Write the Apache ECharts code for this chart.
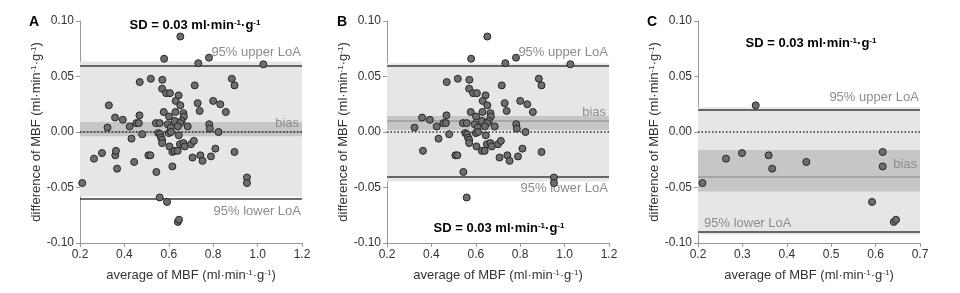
<!DOCTYPE html>
<html><head><meta charset="utf-8">
<script src="https://cdn.jsdelivr.net/npm/echarts@6/dist/echarts.min.js"></script>
<style>html,body{margin:0;padding:0;background:#fff}#c{width:960px;height:293px}</style>
</head><body><div id="c"></div>
<script>
// Panel A: all measurements
const aAvg = [0.652,0.579,0.733,0.781,1.026,0.469,0.519,0.571,0.884,0.896,
  0.717,0.570,0.588,0.605,0.644,0.631,0.800,0.730,0.832,0.652,
  0.330,0.739,0.857,0.577,0.630,0.666,0.358,0.393,0.468,0.601,
  0.668,0.454,0.465,0.542,0.559,0.424,0.324,0.627,0.658,0.651,
  0.595,0.641,0.609,0.685,0.782,0.785,0.824,0.480,0.553,0.561,
  0.565,0.570,0.600,0.610,0.645,0.432,0.570,0.603,0.616,0.627,
  0.640,0.650,0.666,0.672,0.700,0.713,0.707,0.742,0.752,0.790,
  0.810,0.896,0.952,0.952,0.616,0.210,0.263,0.299,0.359,0.362,
  0.367,0.444,0.508,0.517,0.544,0.559,0.592,0.641,0.646];
const aDiff = [0.086,0.066,0.062,0.067,0.061,0.045,0.048,0.047,0.048,0.042,
  0.042,0.039,0.035,0.035,0.033,0.028,0.028,0.026,0.025,0.024,
  0.024,0.019,0.018,0.018,0.018,0.017,0.013,0.011,0.015,0.014,
  0.014,0.008,0.008,0.008,0.008,0.005,0.004,0.010,0.010,0.008,
  0.007,0.005,0.004,0.005,0.007,0.003,0.000,-0.002,-0.001,-0.002,
  -0.005,-0.007,-0.001,0.000,-0.003,-0.006,-0.010,-0.013,-0.018,-0.017,
  -0.017,-0.011,-0.010,-0.013,-0.011,-0.008,-0.023,-0.021,-0.026,-0.022,
  -0.015,-0.018,-0.041,-0.046,-0.031,-0.046,-0.024,-0.019,-0.021,-0.017,
  -0.033,-0.027,-0.021,-0.021,-0.036,-0.059,-0.063,-0.081,-0.079];
// Panel B
const bAvg = [0.652,0.579,0.733,0.781,1.026,0.469,0.519,0.571,0.884,0.896,
  0.717,0.570,0.588,0.605,0.644,0.631,0.800,0.730,0.832,0.652,
  0.739,0.857,0.577,0.630,0.666,0.358,0.393,0.468,0.601,
  0.668,0.454,0.465,0.542,0.559,0.424,0.324,0.627,0.658,0.651,
  0.595,0.641,0.609,0.685,0.782,0.785,0.824,0.480,0.553,0.561,
  0.565,0.570,0.600,0.610,0.645,0.432,0.570,0.603,0.627,
  0.640,0.650,0.666,0.672,0.700,0.713,0.707,0.742,0.752,0.790,
  0.810,0.896,0.952,0.952,0.362,
  0.508,0.517,0.544,0.559];
const bDiff = [0.086,0.066,0.062,0.067,0.061,0.045,0.048,0.047,0.048,0.042,
  0.042,0.039,0.035,0.035,0.033,0.028,0.028,0.026,0.025,0.024,
  0.019,0.018,0.018,0.018,0.017,0.013,0.011,0.015,0.014,
  0.014,0.008,0.008,0.008,0.008,0.005,0.004,0.010,0.010,0.008,
  0.007,0.005,0.004,0.005,0.007,0.003,0.000,-0.002,-0.001,-0.002,
  -0.005,-0.007,-0.001,0.000,-0.003,-0.006,-0.010,-0.013,-0.017,
  -0.017,-0.011,-0.010,-0.013,-0.011,-0.008,-0.023,-0.021,-0.026,-0.022,
  -0.015,-0.018,-0.041,-0.046,-0.017,
  -0.021,-0.021,-0.036,-0.059];
// Panel C
const cAvg = [0.330,0.210,0.263,0.299,0.359,0.367,0.444,0.592,0.616,0.616,0.641,0.646];
const cDiff = [0.024,-0.046,-0.024,-0.019,-0.021,-0.033,-0.027,-0.063,-0.018,-0.031,-0.081,-0.079];

// Bland-Altman statistics per panel [A, B, C]
const biasVal   = [0.0024, 0.0084, -0.0350];
const biasLow   = [-0.0039, 0.0018, -0.0537];
const biasHigh  = [0.0090, 0.0144, -0.0162];
const upperLoA  = [0.0636, 0.0620, 0.0222];
const lowerLoA  = [-0.0582, -0.0447, -0.0923];
const panelLetters = ['A', 'B', 'C'];
const sdText = 'SD = 0.03 ml·min';
const xTicksAB = {min: 0.2, max: 1.2, interval: 0.2};
const xTicksC = {min: 0.2, max: 0.7, interval: 0.1};
const yTicks = {min: -0.1, max: 0.1, interval: 0.05};

const FONT = '"Liberation Sans", Arial, Helvetica, sans-serif';
const panels = [
  {avg: aAvg, diff: aDiff, left: 80, x: xTicksAB},
  {avg: bAvg, diff: bDiff, left: 387, x: xTicksAB},
  {avg: cAvg, diff: cDiff, left: 698, x: xTicksC}
];
const supRich = {
  s: {fontSize: 8, verticalAlign: 'top', lineHeight: 9, fontFamily: FONT, color: '#333'}
};
const unitName = (pre) => pre + ' (ml·min{s|-1}·g{s|-1})';

const grid = [], xAxis = [], yAxis = [], series = [];
panels.forEach((p, i) => {
  grid.push({left: p.left, top: 21, width: 222, height: 222, containLabel: false});
  xAxis.push({
    type: 'value', gridIndex: i, min: p.x.min, max: p.x.max, interval: p.x.interval,
    axisLine: {show: true, onZero: false, lineStyle: {color: '#999', width: 1}},
    axisTick: {show: true, length: 4, lineStyle: {color: '#999'}},
    axisLabel: {color: '#333', fontSize: 12, fontFamily: FONT, margin: 6,
      formatter: v => v.toFixed(1)},
    splitLine: {show: false},
    name: unitName('average of MBF'), nameLocation: 'middle', nameGap: 26,
    nameTextStyle: {color: '#333', fontSize: 13, fontFamily: FONT, rich: supRich}
  });
  yAxis.push({
    type: 'value', gridIndex: i, min: yTicks.min, max: yTicks.max, interval: yTicks.interval,
    axisLine: {show: true, onZero: false, lineStyle: {color: '#999', width: 1}},
    axisTick: {show: true, length: 4, lineStyle: {color: '#999'}},
    axisLabel: {color: '#333', fontSize: 12, fontFamily: FONT, margin: 6,
      formatter: v => v.toFixed(2)},
    splitLine: {show: false},
    name: unitName('difference of MBF'), nameLocation: 'middle', nameGap: 37, nameRotate: 90,
    nameTextStyle: {color: '#333', fontSize: 13, fontFamily: FONT, rich: supRich}
  });
  const lblBase = {show: true, color: '#8c8c8c', fontSize: 13, fontFamily: FONT};
  const lowerLabel = i === 2
    ? Object.assign({}, lblBase, {formatter: '95% lower LoA', position: 'insideStartTop', distance: [6, 2]})
    : Object.assign({}, lblBase, {formatter: '95% lower LoA', position: 'insideEndBottom', distance: [1, 6]});
  const biasDist = i === 2 ? [3, 5] : [3, 2];
  series.push({
    type: 'line', xAxisIndex: i, yAxisIndex: i, data: [], z: 1, silent: true,
    markArea: {
      silent: true, z: 1,
      data: [
        [{yAxis: lowerLoA[i], itemStyle: {color: '#e6e6e6', opacity: 1}}, {yAxis: upperLoA[i]}],
        [{yAxis: biasLow[i], itemStyle: {color: '#c6c6c6', opacity: 1}}, {yAxis: biasHigh[i]}]
      ]
    },
    markLine: {
      silent: true, z: 2, symbol: ['none', 'none'], animation: false,
      data: [
        {yAxis: biasVal[i], lineStyle: {color: '#9a9a9a', width: 1.5, type: 'solid'},
          label: Object.assign({}, lblBase, {formatter: 'bias', position: 'insideEndTop', distance: biasDist})},
        {yAxis: upperLoA[i], lineStyle: {color: '#3c3c3c', width: 1.5, type: 'solid'},
          label: Object.assign({}, lblBase, {formatter: '95% upper LoA', position: 'insideEndTop', distance: [1, 6]})},
        {yAxis: lowerLoA[i], lineStyle: {color: '#3c3c3c', width: 1.5, type: 'solid'}, label: lowerLabel},
        {yAxis: 0, lineStyle: {color: '#333', width: 1.5, type: [1.5, 2]}, label: {show: false}}
      ]
    }
  });
  series.push({
    type: 'scatter', xAxisIndex: i, yAxisIndex: i, z: 10, symbolSize: 7,
    data: p.avg.map((v, k) => [v, p.diff[k]]),
    itemStyle: {color: '#6e6e6e', borderColor: '#262626', borderWidth: 1, opacity: 1}
  });
});

const sdRich = {
  b: {fontSize: 13, fontWeight: 'bold', fontFamily: FONT, color: '#000'},
  bs: {fontSize: 8, fontWeight: 'bold', fontFamily: FONT, color: '#000', verticalAlign: 'top', lineHeight: 9}
};
const sdStr = '{b|' + sdText + '}{bs|-1}{b|·g}{bs|-1}';
const sdPos = [[195, 25], [499, 228], [811, 43]];
const letterPos = [[34, 22], [342, 22], [652, 22]];
const graphic = [];
panelLetters.forEach((L, i) => {
  graphic.push({type: 'text', x: letterPos[i][0], y: letterPos[i][1],
    style: {text: L, font: 'bold 14px ' + FONT, fill: '#000', align: 'center', verticalAlign: 'middle'}});
  graphic.push({type: 'text', x: sdPos[i][0], y: sdPos[i][1],
    style: {text: sdStr, rich: sdRich, align: 'center', verticalAlign: 'middle'}});
});

const chart = echarts.init(document.getElementById('c'), null, {renderer: 'canvas'});
chart.setOption({animation: false, backgroundColor: '#fff', grid, xAxis, yAxis, series, graphic});
</script></body></html>
